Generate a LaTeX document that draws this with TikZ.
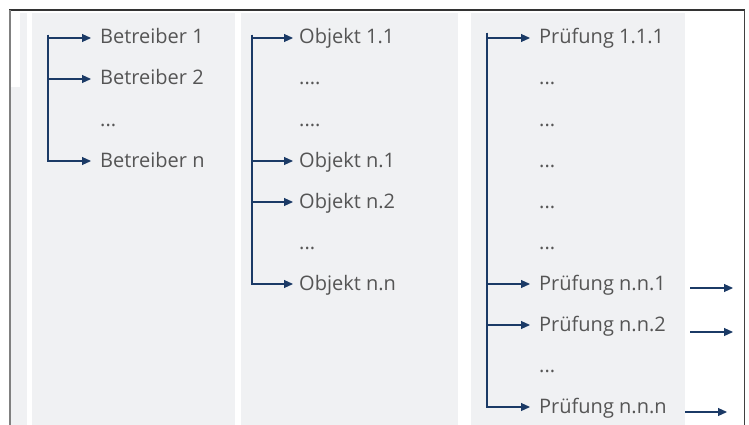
\documentclass[tikz,border=0pt]{standalone}
\usepackage{fontspec}
\setmainfont{Open Sans}
\usetikzlibrary{arrows.meta,positioning}
\definecolor{navy}{HTML}{1B3A66}
\definecolor{txtgray}{HTML}{555555}
\definecolor{colbg}{HTML}{F0F1F3}
\tikzset{
  item/.style={anchor=west,inner sep=0pt,text height=12pt,text depth=0pt,text=txtgray,font=\fontsize{20}{24}\selectfont},
  link/.style={draw=navy,line width=1.1pt,-{Triangle[length=9pt,width=8pt]}},
}

\begin{document}
\begin{tikzpicture}[x=1pt,y=-1pt]
	\useasboundingbox (0,0) rectangle (749,425);
	% columns
	\fill[colbg] (11,13) rectangle (27,425);
	\fill[white] (11,13) rectangle (20,87);
	\fill[colbg] (32,13) rectangle (235,425);
	\fill[colbg] (241,13) rectangle (458,425);
	\fill[colbg] (471,13) rectangle (685,425);
	% frame
	\draw[black!80,line width=1.2pt] (9,10) -- (745,10);
	\draw[black!50,line width=2pt] (10,10) -- (10,425);
	\draw[black!75,line width=1pt] (744,10) -- (744,425);

	% Betreiber
	\node[item] (b1) at (100,38) {Betreiber 1};
	\node[item] (b2) at (100,79) {Betreiber 2};
	\node[item] (bd) at (100,120) {...};
	\node[item] (bn) at (100,161) {Betreiber n};

	% Objekte
	\node[item] (o11) at (299,38) {Objekt 1.1};
	\node[item] (od1) at (299,79) {....};
	\node[item] (od2) at (299,120) {....};
	\node[item] (on1) at (299,161) {Objekt n.1};
	\node[item] (on2) at (299,202) {Objekt n.2};
	\node[item] (od3) at (299,243) {...};
	\node[item] (onn) at (299,284) {Objekt n.n};

	% Pruefungen
	\node[item] (p111) at (539,38) {Prüfung 1.1.1};
	\foreach \y/\n in {79/1,120/2,161/3,202/4,243/5,366/6}
		\node[item] (pd\n) at (539,\y) {...};
	\node[item] (pn1) at (539,284) {Prüfung n.n.1};
	\node[item] (pn2) at (539,325) {Prüfung n.n.2};
	\node[item] (pnn) at (539,407) {Prüfung n.n.n};

	\coordinate (t1) at (48,35);
	\coordinate (t2) at (252,35);
	\coordinate (t3) at (487,33);
	\foreach \n in {b1,b2,bn}
		\draw[link] (t1) |- ([xshift=-9pt]\n.west);
	\foreach \n in {o11,on1,on2,onn}
		\draw[link] (t2) |- ([xshift=-6pt]\n.west);
	\foreach \n in {p111,pn1,pn2,pnn}
		\draw[link] (t3) |- ([xshift=-9pt]\n.west);

	% outgoing
	\coordinate (q1a) at (690,288); \coordinate (q1b) at (733,288);
	\coordinate (q2a) at (690,332); \coordinate (q2b) at (733,332);
	\coordinate (q3a) at (685,412); \coordinate (q3b) at (727,412);
	\draw[link] (q1a) -- (q1b);
	\draw[link] (q2a) -- (q2b);
	\draw[link] (q3a) -- (q3b);
\end{tikzpicture}
\end{document}
